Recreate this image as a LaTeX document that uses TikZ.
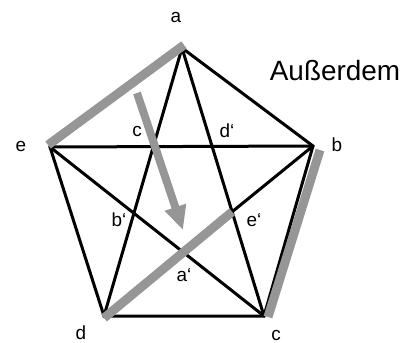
\documentclass[tikz,border=0pt]{standalone}
\usepackage{fontspec}
\setmainfont{Liberation Sans}
\usepackage{xcolor}
\usetikzlibrary{arrows.meta}
\definecolor{markgray}{RGB}{150,150,150}
\newcommand{\grv}{\symbol{96}}

\begin{document}
\begin{tikzpicture}[x=1bp, y=-1bp,
    edge/.style={draw, line width=3bp, line cap=round},
    graymark/.style={draw=markgray, line width=9bp},
    lbl/.style={inner sep=0pt, font=\fontsize{19}{22}\selectfont}]
    \useasboundingbox (0,0) rectangle (414,343);

    % corners of the pentagon
    \coordinate (a) at (182,48);
    \coordinate (b) at (313,146);
    \coordinate (c) at (264,316);
    \coordinate (d) at (104,316);
    \coordinate (e) at (50,147);
    \coordinate (e') at (intersection of b--d and a--c);

    % pentagon and star
    \draw[edge] (a) -- (b) -- (c) -- (d) -- (e) -- cycle;
    \draw[edge] (a) -- (c);
    \draw[edge] (a) -- (d);
    \draw[edge] (e) -- (b);
    \draw[edge] (e) -- (c);
    \draw[edge] (b) -- (d);

    % gray marks
    \draw[graymark] ([shift={(2,-3)}]a) -- ([shift={(-2,-2)}]e);
    \draw[graymark] ([shift={(7,4)}]b) -- ([shift={(4,1)}]c);
    \draw[graymark] ([shift={(0,2)}]d) -- (e');
    \coordinate (arrstart) at (137,93);
    \coordinate (arrend) at (183,230);
    \draw[markgray, line width=8bp, -{Triangle[length=24bp,width=21bp]}] (arrstart) -- (arrend);

    % labels
    \node[lbl] (la) at (176,17) {a};
    \node[lbl] (lb) at (337,145) {b};
    \node[lbl] (lc) at (276,335) {c};
    \node[lbl] (ld) at (81,333) {d};
    \node[lbl] (le) at (21,146) {e};
    \node[lbl] (lci) at (137,131) {c};
    \node[lbl] (ldi) at (227,131) {d\grv};
    \node[lbl] (lbi) at (119,220) {b\grv};
    \node[lbl] (lei) at (254,220) {e\grv};
    \node[lbl] (lai) at (184,275) {a\grv};
    \node[inner sep=0pt, font=\fontsize{28}{32}\selectfont] (note) at (335,71) {Außerdem};
\end{tikzpicture}
\end{document}
